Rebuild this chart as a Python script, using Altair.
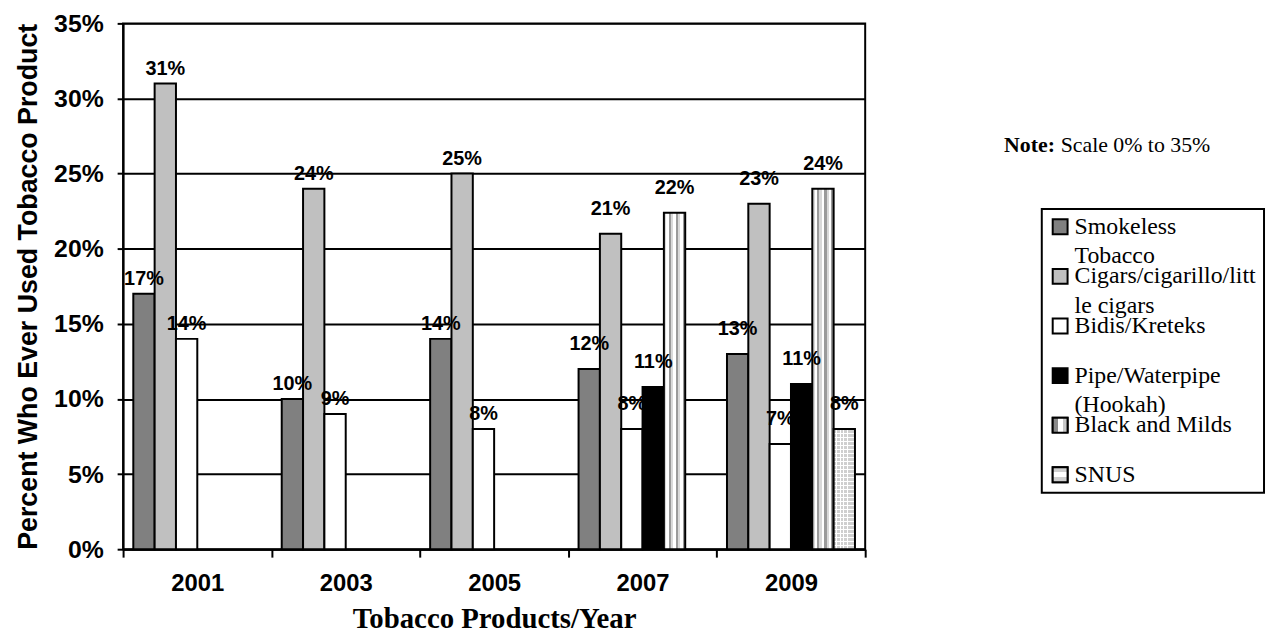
import altair as alt
import pandas as pd

years = ["2001", "2003", "2005", "2007", "2009"]
series = [
    "Smokeless Tobacco",
    "Cigars/cigarillo/little cigars",
    "Bidis/Kreteks",
    "Pipe/Waterpipe (Hookah)",
    "Black and Milds",
    "SNUS",
]
legend_lines = [
    "Smokeless|Tobacco",
    "Cigars/cigarillo/litt|le cigars",
    "Bidis/Kreteks",
    "Pipe/Waterpipe|(Hookah)",
    "Black and Milds",
    "SNUS",
]
smokeless = [17, 10, 14, 12, 13]
cigars = [31, 24, 25, 21, 23]
bidis = [14, 9, 8, 8, 7]
pipe = [None, None, None, 10.8, 11]
black_milds = [None, None, None, 22.4, 24]
snus = [None, None, None, None, 8]
y_ticks = [0, 5, 10, 15, 20, 25, 30, 35]

rows = []
for s, vals in zip(series, [smokeless, cigars, bidis, pipe, black_milds, snus]):
    for yr, v in zip(years, vals):
        if v is not None:
            rows.append({"year": yr, "series": s, "value": v, "label": f"{round(v)}%"})
df = pd.DataFrame(rows)
leg_df = pd.DataFrame({"series": series, "lines": legend_lines})

SANS = "Liberation Sans"
SERIF = "Liberation Serif"


def stripes(colors, horizontal=False):
    n = len(colors)
    stops = []
    for i, c in enumerate(colors):
        stops.append({"offset": i / n, "color": c})
        stops.append({"offset": (i + 1) / n, "color": c})
    g = {"gradient": "linear", "x1": 0, "y1": 0, "x2": 1, "y2": 0, "stops": stops}
    if horizontal:
        g.update({"x2": 0, "y2": 1})
    return g


bm_fill = stripes(["#d9d9d9", "#ffffff", "#9a9a9a"] * 3)
snus_fill = stripes(["#cfcfcf", "#cfcfcf", "#cfcfcf", "#ffffff"] * 6)
snus_h = {"gradient": "linear", "x1": 0, "y1": 0, "x2": 0, "y2": 1,
          "stops": [st for k in range(30) for st in (
              {"offset": k / 30, "color": "#ffffff"},
              {"offset": (k + 0.28) / 30, "color": "#ffffff"},
              {"offset": (k + 0.28) / 30, "color": "rgba(255,255,255,0)"},
              {"offset": (k + 1) / 30, "color": "rgba(255,255,255,0)"})]}

x_enc = alt.X(
    "year:N", sort=years,
    scale=alt.Scale(domain=years, paddingInner=0, paddingOuter=0),
    axis=alt.Axis(
        title="Tobacco Products/Year", titleFont=SERIF, titleFontSize=29,
        titleFontWeight="bold", titleColor="black", titlePadding=9,
        labelFont=SANS, labelFontSize=24, labelFontWeight="bold", labelColor="black",
        labelAngle=0, labelPadding=15, tickSize=8, tickWidth=2, tickColor="black",
        domainColor="black", domainWidth=2, tickBand="extent", grid=False,
    ),
)
xo_enc = alt.XOffset("series:N", scale=alt.Scale(domain=series, paddingInner=0, paddingOuter=0.479))
y_enc = alt.Y(
    "value:Q",
    scale=alt.Scale(domain=[0, 35], nice=False),
    axis=alt.Axis(
        title="Percent Who Ever Used Tobacco Product", titleFont=SANS, titleFontSize=27,
        titleFontWeight="bold", titleColor="black", titlePadding=11,
        values=y_ticks, labelExpr="datum.value + '%'",
        labelFont=SANS, labelFontSize=25, labelFontWeight="bold", labelColor="black",
        labelPadding=14, tickSize=6, tickWidth=2, tickColor="black",
        domainColor="black", domainWidth=2, grid=True, gridColor="black", gridWidth=2,
    ),
)

base = alt.Chart(df).encode(x=x_enc, xOffset=xo_enc, y=y_enc)
color_enc = alt.Color(
    "series:N",
    scale=alt.Scale(domain=series[:4], range=["#808080", "#c0c0c0", "#ffffff", "#000000"]),
    legend=None,
)

bars_a = base.transform_filter(
    alt.FieldOneOfPredicate(field="series", oneOf=series[:3])
).mark_bar(stroke="black", strokeWidth=2).encode(color=color_enc)

text_style = dict(font=SANS, fontSize=20, fontWeight="bold", color="black", baseline="alphabetic")
first3 = alt.FieldOneOfPredicate(field="series", oneOf=series[:3])
last3 = alt.FieldOneOfPredicate(field="series", oneOf=series[3:])
labels_early = base.transform_filter("datum.year < '2007'").transform_filter(first3).mark_text(
    dy=-9, **text_style).encode(text="label:N")
labels_late = base.transform_filter("datum.year >= '2007'").transform_filter(first3).mark_text(
    dy=-19, **text_style).encode(text="label:N")
labels_new = base.transform_filter(last3).mark_text(dy=-19, **text_style).encode(text="label:N")

bars_pipe = base.transform_filter(
    alt.FieldEqualPredicate(field="series", equal=series[3])
).mark_bar(stroke="black", strokeWidth=2).encode(color=color_enc)
bars_bm = base.transform_filter(
    alt.FieldEqualPredicate(field="series", equal=series[4])
).mark_bar(fill=bm_fill, stroke="black", strokeWidth=2)
bars_snus = base.transform_filter(
    alt.FieldEqualPredicate(field="series", equal=series[5])
).mark_bar(fill=snus_fill, strokeWidth=0)
bars_snus_h = base.transform_filter(
    alt.FieldEqualPredicate(field="series", equal=series[5])
).mark_bar(fill=snus_h, stroke="black", strokeWidth=2)

main = alt.layer(
    bars_a, labels_early, labels_late, bars_pipe, bars_bm, bars_snus, bars_snus_h, labels_new
).properties(width=748, height=530, view=alt.ViewBackground(stroke="black", strokeWidth=2))

# ---- legend / note panel ----
one = alt.Data(values=[{}])
ly = alt.Y(
    "series:N", sort=series,
    scale=alt.Scale(domain=series, type="point", range=[205, 455], padding=0),
    axis=None,
)
box = alt.Chart(one).mark_rect(fill="white", stroke="black", strokeWidth=2).encode(
    x=alt.value(46), x2=alt.value(270), y=alt.value(187), y2=alt.value(473)
)
syms = alt.Chart(leg_df).mark_square(size=225, stroke="black", strokeWidth=2, opacity=1, filled=True).encode(
    x=alt.value(64.5), y=ly,
    color=alt.Color(
        "series:N",
        scale=alt.Scale(domain=series, range=["#808080", "#c0c0c0", "#ffffff", "#000000", "#c0c0c0", "#d9d9d9"]),
        legend=None,
    ),
)
sym_bm = alt.Chart(leg_df).transform_filter(
    alt.FieldEqualPredicate(field="series", equal=series[4])
).mark_square(size=225, fill=stripes(["#8a8a8a", "#ffffff", "#c8c8c8"]), stroke="black", strokeWidth=2, opacity=1).encode(
    x=alt.value(64.5), y=ly
)
sym_snus = alt.Chart(leg_df).transform_filter(
    alt.FieldEqualPredicate(field="series", equal=series[5])
).mark_square(size=225, fill=stripes(["#cfcfcf", "#ffffff", "#cfcfcf"], horizontal=True), stroke="black", strokeWidth=2, opacity=1).encode(
    x=alt.value(64.5), y=ly
)
leg_text = alt.Chart(leg_df).mark_text(
    align="left", baseline="alphabetic", dy=7, font=SERIF, fontSize=24,
    lineBreak="|", lineHeight=30, color="black",
).encode(x=alt.value(79), y=ly, text="lines:N")
note1 = alt.Chart(one).mark_text(
    align="left", baseline="alphabetic", font=SERIF, fontSize=22, fontWeight="bold", color="black"
).encode(x=alt.value(8), y=alt.value(130), text=alt.value("Note:"))
note2 = alt.Chart(one).mark_text(
    align="left", baseline="alphabetic", font=SERIF, fontSize=22, color="black"
).encode(x=alt.value(65), y=alt.value(130), text=alt.value("Scale 0% to 35%"))

panel = alt.layer(box, syms, sym_bm, sym_snus, leg_text, note1, note2).properties(width=272, height=530)

chart = (
    alt.hconcat(main, panel, spacing=130)
    .resolve_scale(color="independent", y="independent", x="independent")
    .properties(padding={"left": 5, "top": 0, "right": 0, "bottom": 0}, background="white")
    .configure_view(strokeWidth=0)
)

chart.save("out.html", embed_options={"renderer": "svg", "actions": False})
